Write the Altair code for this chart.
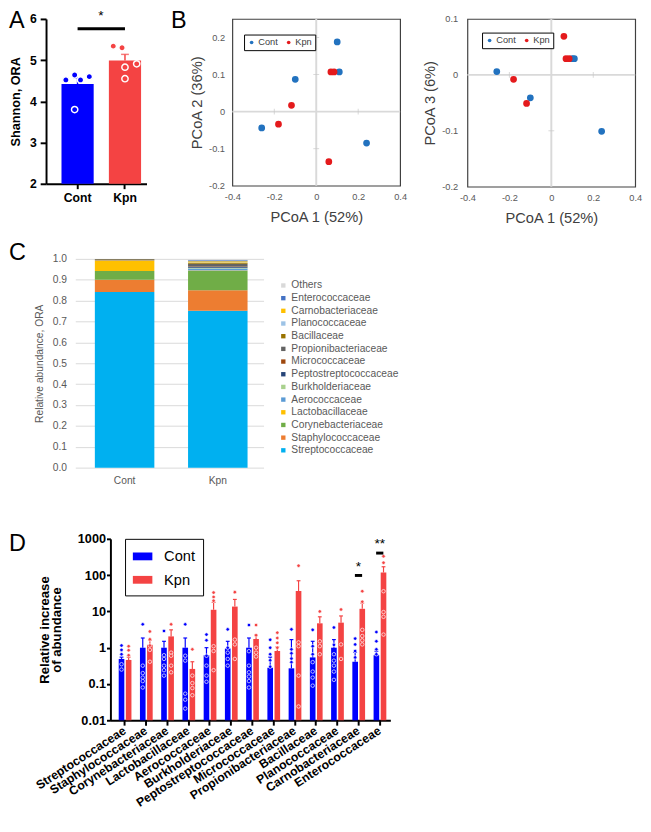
import altair as alt
import pandas as pd

FONT = "Liberation Sans"
BLUE_D = "#0000FF"
RED_D = "#F44343"
BLUE_B = "#2272BF"
RED_B = "#E41A1C"

groups = ["Cont", "Kpn"]

# ---------------- Panel A : Shannon index ----------------
shannon_mean = [4.42, 4.99]
shannon_err_top = [4.57, 5.14]
cont_shannon = [4.52, 4.64, 3.80, 4.52, 4.60]
cont_slot = [1, 4, 4, 6, 9]
kpn_shannon = [5.34, 5.30, 4.83, 4.55, 4.91]
kpn_slot = [1, 4, 5, 5, 9]
sig_a_line = 5.76
sig_a_star = 6.08

# ---------------- Panel B : PCoA ----------------
cont_pc1 = [0.10, 0.11, -0.10, -0.26, 0.24]
cont_pc2 = [0.188, 0.107, 0.087, -0.044, -0.085]
cont_pc3 = [0.029, 0.029, -0.041, 0.006, -0.101]
kpn_pc1 = [0.07, 0.085, -0.118, -0.18, 0.06]
kpn_pc2 = [0.107, 0.107, 0.017, -0.034, -0.135]
kpn_pc3 = [0.029, 0.029, -0.051, -0.008, 0.069]
pc_ticks = [-0.4, -0.2, 0, 0.2, 0.4]

# ---------------- Panel C : relative abundance ----------------
families = ["Streptococcaceae", "Staphylococcaceae", "Corynebacteriaceae", "Lactobacillaceae",
            "Aerococcaceae", "Burkholderiaceae", "Peptostreptococcaceae", "Micrococcaceae",
            "Propionibacteriaceae", "Bacillaceae", "Planococcaceae", "Carnobacteriaceae",
            "Enterococcaceae", "Others"]
family_colors = ["#00B0F0", "#ED7D31", "#70AD47", "#FFC000", "#5B9BD5", "#A9D18E", "#264478",
                 "#9E480E", "#636363", "#997300", "#9DC3E6", "#FFC000", "#4472C4", "#D9D9D9"]
cont_abund = [0.841, 0.059, 0.042, 0.050, 0.001, 0.0005, 0.0005, 0.0005, 0.004, 0.0005,
              0.0003, 0.0003, 0.0003, 0.0001]
kpn_abund = [0.751, 0.099, 0.092, 0.003, 0.009, 0.004, 0.003, 0.002, 0.014, 0.003,
             0.003, 0.006, 0.004, 0.004]

# ---------------- Panel D : relative increase ----------------
families_d = families[:-1]
cont_mean = [0.49, 1.0, 1.0, 1.0, 0.62, 0.95, 1.0, 0.28, 0.27, 0.54, 1.0, 0.41, 0.62]
cont_err = [0.55, 1.85, 1.5, 1.85, 1.0, 1.5, 1.85, 0.55, 1.67, 1.5, 1.67, 0.75, 0.8]
kpn_mean = [0.46, 1.2, 2.05, 0.26, 11.1, 13.6, 1.74, 0.81, 36.4, 4.7, 4.9, 11.8, 118]
kpn_err = [0.55, 1.6, 3.1, 0.41, 17.8, 21.4, 2.3, 1.05, 70, 7.1, 7.5, 17, 170]
cont_pts = [
    [1.15, 0.87, 0.66, 0.35, 0.25],
    [4.4, 0.32, 0.2, 0.15, 0.12, 0.08],
    [2.9, 0.62, 0.49, 0.32, 0.24, 0.17],
    [4.4, 0.6, 0.44, 0.054, 0.037, 0.021],
    [2.3, 1.6, 0.6, 0.32, 0.17, 0.115],
    [3.2, 1.0, 0.73, 0.49, 0.32],
    [4.2, 0.8, 0.32, 0.21, 0.16, 0.12, 0.08],
    [1.65, 1.0, 0.66, 0.45, 0.3],
    [3.2, 0.9, 0.7, 0.5, 0.4],
    [3.1, 1.1, 0.66, 0.4, 0.22, 0.15, 0.09],
    [3.6, 1.2, 0.66, 0.44, 0.32, 0.22, 0.13],
    [1.78, 1.23, 0.81, 0.54],
    [2.7, 1.5, 0.9, 0.66],
]
kpn_pts = [
    [1.1, 0.85, 0.62],
    [2.8, 1.7, 1.15, 0.87, 0.41],
    [4.4, 0.73, 0.6, 0.32, 0.21],
    [0.9, 0.17, 0.106, 0.077, 0.049],
    [33, 25, 19.7, 1.1, 0.81, 0.24],
    [34, 1.67, 1.23, 0.49],
    [4.2, 2.2, 1.0, 0.73, 0.57],
    [2.6, 1.85, 1.36, 1.0],
    [182, 1.4, 1.1, 0.17, 0.024],
    [10, 1.5, 1.1, 0.66],
    [11.3, 1.23, 0.49],
    [36, 18.5, 3.1, 2.1, 1.6, 1.23],
    [330, 220, 36, 9.6, 7.1, 2.3],
]
sig_d_family = ["Carnobacteriaceae", "Enterococcaceae"]
sig_d_text = ["*", "**"]
sig_d_line = [98, 405]
sig_d_star = [165, 720]

# layout constants for grouped bars in panel D (offsets from the category position)
BAR_SPAN = {"Cont": (-0.29, -0.025), "Kpn": (0.045, 0.31)}
CAP_HALF = 0.09
SIG_HALF = 0.17


def letter(txt, x, y):
    return alt.Chart(pd.DataFrame({"t": [txt]})).mark_text(
        align="left", baseline="top", fontSize=24, font=FONT, color="black").encode(
        text="t:N", x=alt.value(x), y=alt.value(y))


def spacer():
    return alt.Chart(pd.DataFrame({"s": [""]})).mark_text().encode(
        text="s:N", x=alt.value(0), y=alt.value(0)).properties(width=1, height=1)


# ================= Panel A =================
dfA = pd.DataFrame({"group": groups, "mean": shannon_mean, "err": shannon_err_top})
dfA_pts = pd.DataFrame({"group": ["Cont"] * len(cont_shannon) + ["Kpn"] * len(kpn_shannon),
                        "value": cont_shannon + kpn_shannon, "slot": cont_slot + kpn_slot})
dfA_sig = pd.DataFrame({"group": ["Cont"], "group2": ["Kpn"], "y": [sig_a_line],
                        "ys": [sig_a_star], "t": ["*"]})

colorA = alt.Color("group:N", scale=alt.Scale(domain=groups, range=[BLUE_D, RED_D]), legend=None)
xA = alt.X("group:N", sort=groups,
           scale=alt.Scale(domain=groups, paddingInner=0.32, paddingOuter=0.22, align=0.74),
           axis=alt.Axis(title=None, labelAngle=0, labelFont=FONT, labelFontSize=12.5,
                         labelFontWeight="bold", labelColor="black", domainColor="black",
                         domainWidth=2, tickColor="black", tickWidth=2, tickSize=5,
                         labelPadding=3))
yscaleA = alt.Scale(domain=[2, 6], nice=False, zero=False)
yaxisA = alt.Axis(values=[2, 3, 4, 5, 6], title="Shannon, ORA", titleFont=FONT,
                  titleFontSize=13, titleFontWeight="bold", titleColor="black", titlePadding=7,
                  labelFont=FONT, labelFontSize=12.5, labelFontWeight="bold", labelColor="black",
                  grid=False, domainColor="black", domainWidth=2, tickColor="black",
                  tickWidth=2, tickSize=6, labelPadding=4)

barsA = alt.Chart(dfA).mark_bar(size=33).encode(
    x=xA, y=alt.Y("mean:Q", scale=yscaleA, axis=yaxisA), y2=alt.datum(2), color=colorA)
errA = alt.Chart(dfA).mark_rule(strokeWidth=1.5).encode(x=xA, y="mean:Q", y2="err:Q", color=colorA)
capA = alt.Chart(dfA).mark_tick(size=8, thickness=1.5).encode(x=xA, y="err:Q", color=colorA)
ptsA = alt.Chart(dfA_pts).mark_circle(size=42, stroke="white", strokeWidth=1.5, opacity=1).encode(
    x=xA,
    xOffset=alt.XOffset("slot:O", scale=alt.Scale(domain=list(range(11)), paddingInner=0,
                                                   paddingOuter=0.5)),
    y="value:Q", color=colorA)
sigA = alt.Chart(dfA_sig).mark_rule(strokeWidth=3, color="black").encode(
    x=xA, x2="group2:N", y="y:Q")
starA = alt.Chart(dfA_sig).mark_text(dx=24, fontSize=14, font=FONT, color="black",
                                     baseline="middle").encode(x=xA, y="ys:Q", text="t:N")

chartA = alt.layer(barsA, errA, capA, ptsA, sigA, starA, letter("A", -38, -10)).properties(
    width=103, height=169)


# ================= Panel B =================
def pcoa(ycont, ykpn, ydomain, yvals, ytitle, lx, ly, lab_pad, title_pad, extra=None, h=171):
    df = pd.DataFrame({"pc1": cont_pc1 + kpn_pc1, "pc": ycont + ykpn,
                       "group": ["Cont"] * len(cont_pc1) + ["Kpn"] * len(kpn_pc1)})
    lab = ("datum.value == 0 ? '0' : (datum.value < 0 ? '-' + format(-datum.value, '.1f') "
           ": format(datum.value, '.1f'))")
    xs = alt.Scale(domain=[-0.4, 0.4], nice=False, zero=False)
    ys = alt.Scale(domain=ydomain, nice=False, zero=False)
    x = alt.X("pc1:Q", scale=xs, axis=alt.Axis(
        values=pc_ticks, labelExpr=lab, grid=False, domain=False, ticks=False,
        labelColor="#595959", labelFont=FONT, labelFontSize=9.5, labelPadding=6,
        labelFlush=False, title="PCoA 1 (52%)", titleFont=FONT, titleFontSize=15,
        titleColor="#404040", titleFontWeight="normal", titlePadding=9))
    y = alt.Y("pc:Q", scale=ys, axis=alt.Axis(
        values=yvals, labelExpr=lab, grid=False, domain=False, ticks=False,
        labelColor="#595959", labelFont=FONT, labelFontSize=9.5, labelPadding=lab_pad,
        labelFlush=False, title=ytitle, titleFont=FONT, titleFontSize=15,
        titleColor="#404040", titleFontWeight="normal", titlePadding=title_pad))
    zero = pd.DataFrame({"z": [0]})
    vline = alt.Chart(zero).mark_rule(color="#D9D9D9", strokeWidth=2).encode(x=alt.X("z:Q", scale=xs))
    hline = alt.Chart(zero).mark_rule(color="#D9D9D9", strokeWidth=2).encode(y=alt.Y("z:Q", scale=ys))
    xt = alt.Chart(pd.DataFrame({"t": [-0.2, 0.2]})).mark_tick(
        orient="vertical", size=6, thickness=1, color="#C8C8C8").encode(
        x=alt.X("t:Q", scale=xs), y=alt.datum(0))
    yt = alt.Chart(pd.DataFrame({"t": [v for v in yvals if v != 0 and v != ydomain[0]]})).mark_tick(
        orient="horizontal", size=6, thickness=1, color="#C8C8C8").encode(
        y=alt.Y("t:Q", scale=ys), x=alt.datum(0))
    pts = alt.Chart(df).mark_circle(size=48, opacity=1).encode(
        x=x, y=y,
        color=alt.Color("group:N", scale=alt.Scale(domain=groups, range=[BLUE_B, RED_B]),
                        legend=alt.Legend(title=None, orient="none", legendX=lx, legendY=ly,
                                          direction="horizontal", symbolType="circle",
                                          symbolSize=14, symbolStrokeWidth=0, symbolOpacity=1,
                                          labelFont=FONT, labelFontSize=9.5,
                                          labelColor="#404040", strokeColor="black",
                                          fillColor="white", padding=3, columnPadding=6,
                                          labelOffset=2)),
        order=alt.Order("group:N"))
    layers = [hline, vline, xt, yt, pts]
    if extra is not None:
        layers.append(extra)
    return alt.layer(*layers).properties(
        width=172, height=h, view=alt.ViewBackground(stroke="#404040", strokeWidth=1.2))


chartB1 = pcoa(cont_pc2, kpn_pc2, [-0.2, 0.25], [-0.2, -0.1, 0, 0.1, 0.2], "PCoA 2 (36%)",
               12, 16, 8, 4, extra=letter("B", -63, -10))
chartB2 = pcoa(cont_pc3, kpn_pc3, [-0.2, 0.1], [-0.2, -0.1, 0, 0.1], "PCoA 3 (6%)",
               15, 14, 10, 4, h=172)

# ================= Panel C =================
rowsC = []
for g, ab in zip(groups, [cont_abund, kpn_abund]):
    for i, (f, a) in enumerate(zip(families, ab)):
        rowsC.append({"group": g, "family": f, "abund": a, "idx": i})
dfC = pd.DataFrame(rowsC)
barsC = alt.Chart(dfC).mark_bar(size=61).encode(
    x=alt.X("group:N", sort=groups,
            scale=alt.Scale(paddingInner=0.36, paddingOuter=0.19, align=0.55),
            axis=alt.Axis(title=None, labelAngle=0, domain=False, ticks=False,
                          labelColor="#595959", labelFont=FONT, labelFontSize=10.5,
                          labelPadding=8)),
    y=alt.Y("abund:Q", stack="zero", scale=alt.Scale(domain=[0, 1], nice=False),
            axis=alt.Axis(values=[i / 10 for i in range(11)], format=".1f", grid=True,
                          gridColor="#D9D9D9", domain=False, ticks=False,
                          labelColor="#595959", labelFont=FONT, labelFontSize=10.5,
                          labelPadding=9, title="Relative abundance, ORA", titleFont=FONT,
                          titleFontSize=10.5, titleColor="#595959", titleFontWeight="normal",
                          titlePadding=8)),
    color=alt.Color("family:N", scale=alt.Scale(domain=families[::-1], range=family_colors[::-1]),
                    legend=alt.Legend(title=None, orient="none", legendX=208, legendY=22,
                                      symbolType="square", symbolSize=20, symbolStrokeWidth=0,
                                      symbolOpacity=1,
                                      labelFont=FONT, labelFontSize=10.5, labelColor="#595959",
                                      rowPadding=2, labelOffset=3, padding=0)),
    order=alt.Order("idx:Q", sort="ascending"),
)
chartC = alt.layer(barsC, letter("C", -68, -18)).properties(width=193, height=214)

# ================= Panel D =================
rowsD, rowsP = [], []
for g, means, errs, pts in zip(groups, [cont_mean, kpn_mean], [cont_err, kpn_err],
                               [cont_pts, kpn_pts]):
    lo, hi = BAR_SPAN[g]
    for k, f in enumerate(families_d):
        xc = k + (lo + hi) / 2
        rowsD.append({"family": f, "group": g, "mean": means[k], "err": errs[k],
                      "xl": k + lo, "xr": k + hi, "xc": xc,
                      "cl": xc - CAP_HALF, "cr": xc + CAP_HALF})
        for v in pts[k]:
            rowsP.append({"family": f, "group": g, "value": v, "xc": xc})
dfD = pd.DataFrame(rowsD)
dfD_pts = pd.DataFrame(rowsP)
sig_k = [families_d.index(f) for f in sig_d_family]
dfD_sig = pd.DataFrame({"family": sig_d_family, "t": sig_d_text, "line": sig_d_line,
                        "star": sig_d_star, "xc": sig_k,
                        "sl": [k - SIG_HALF for k in sig_k], "sr": [k + SIG_HALF for k in sig_k]})

colorD = alt.Color("group:N", scale=alt.Scale(domain=groups, range=[BLUE_D, RED_D]),
                   legend=alt.Legend(title=None, orient="none", legendX=15, legendY=0,
                                     symbolType="M-1,-0.4H1V0.4H-1Z", symbolSize=400,
                                     symbolStrokeWidth=0, symbolOpacity=1, labelFont=FONT,
                                     labelFontSize=15, labelColor="black", strokeColor="black",
                                     fillColor="white", padding=8, rowPadding=6, labelOffset=12))
# category axis (band scale) aligned with the numeric positions used by the marks
xaxisD = alt.Axis(title=None, labelAngle=327, labelAlign="right", labelBaseline="middle",
                  labelFont=FONT, labelFontSize=12.5, labelFontWeight="bold",
                  labelColor="black", domainColor="black", domainWidth=2, tickColor="black",
                  tickWidth=2, tickSize=5, labelPadding=4, labelLimit=300, labelOverlap=False)
axisLayerD = alt.Chart(pd.DataFrame({"family": families_d})).mark_bar(opacity=0).encode(
    x=alt.X("family:N", sort=families_d,
            scale=alt.Scale(type="band", domain=families_d, paddingInner=0, paddingOuter=0.09,
                            align=1),
            axis=xaxisD))
xsD = alt.Scale(domain=[-0.68, 12.5], nice=False, zero=False)
yscaleD = alt.Scale(type="log", domain=[0.01, 1000], nice=False)
yaxisD = alt.Axis(values=[0.01, 0.1, 1, 10, 100, 1000], format="~g",
                  title=["Relative increase", "of abundance"], titleFont=FONT,
                  titleFontSize=13.5, titleFontWeight="bold", titleColor="black",
                  titlePadding=14, titleLineHeight=13, labelFont=FONT, labelFontSize=13,
                  labelFontWeight="bold", labelColor="black", grid=False, domainColor="black",
                  domainWidth=2, tickColor="black", tickWidth=2, tickSize=4, labelPadding=1)

barsD = alt.Chart(dfD).mark_bar().encode(
    x=alt.X("xl:Q", scale=xsD, axis=None), x2="xr:Q",
    y=alt.Y("mean:Q", scale=yscaleD, axis=yaxisD), y2=alt.datum(0.01), color=colorD)
errD = alt.Chart(dfD).mark_rule(strokeWidth=1.2).encode(
    x=alt.X("xc:Q", scale=xsD, axis=None), y="mean:Q", y2="err:Q", color=colorD)
capD = alt.Chart(dfD).mark_rule(strokeWidth=1.2).encode(
    x=alt.X("cl:Q", scale=xsD, axis=None), x2="cr:Q", y="err:Q", color=colorD)
ptsD = alt.Chart(dfD_pts).mark_circle(size=13, stroke="white", strokeWidth=0.7, opacity=1).encode(
    x=alt.X("xc:Q", scale=xsD, axis=None), y="value:Q", color=colorD)
sigLineD = alt.Chart(dfD_sig).mark_rule(strokeWidth=3, color="black").encode(
    x=alt.X("sl:Q", scale=xsD, axis=None), x2="sr:Q", y="line:Q")
sigStarD = alt.Chart(dfD_sig).mark_text(fontSize=14, font=FONT, color="black",
                                        baseline="middle").encode(
    x=alt.X("xc:Q", scale=xsD, axis=None), y="star:Q", text="t:N")
dataD = alt.layer(barsD, errD, capD, ptsD, sigLineD, sigStarD)

chartD = alt.layer(axisLayerD, dataD, letter("D", -104, -7)).resolve_scale(
    x="independent").properties(width=287, height=186)

# ================= Layout =================
rowA = alt.concat(spacer(), chartA, spacing=0, align="none").resolve_scale(
    color="independent").resolve_legend(color="independent")
rowB = alt.concat(chartB1, chartB2, spacing=15, align="none").resolve_scale(
    color="independent").resolve_legend(color="independent")
top = alt.concat(rowA, rowB, spacing=24, align="none").resolve_scale(color="independent")
rowC = alt.concat(spacer(), chartC, spacing=0, align="none").resolve_scale(
    color="independent").resolve_legend(color="independent")
rowD = alt.concat(spacer(), chartD, spacing=0, align="none").resolve_scale(
    color="independent").resolve_legend(color="independent")
bottom = alt.concat(rowC, rowD, columns=1, spacing=47, align="none").resolve_scale(
    color="independent")

chart = alt.concat(top, bottom, columns=1, spacing=15, align="none").resolve_scale(
    color="independent").properties(
    padding={"left": 0, "top": -10, "right": 0, "bottom": 0}, background="white"
).configure_view(stroke=None)

chart.save("out.html", embed_options={"renderer": "svg", "actions": False})
